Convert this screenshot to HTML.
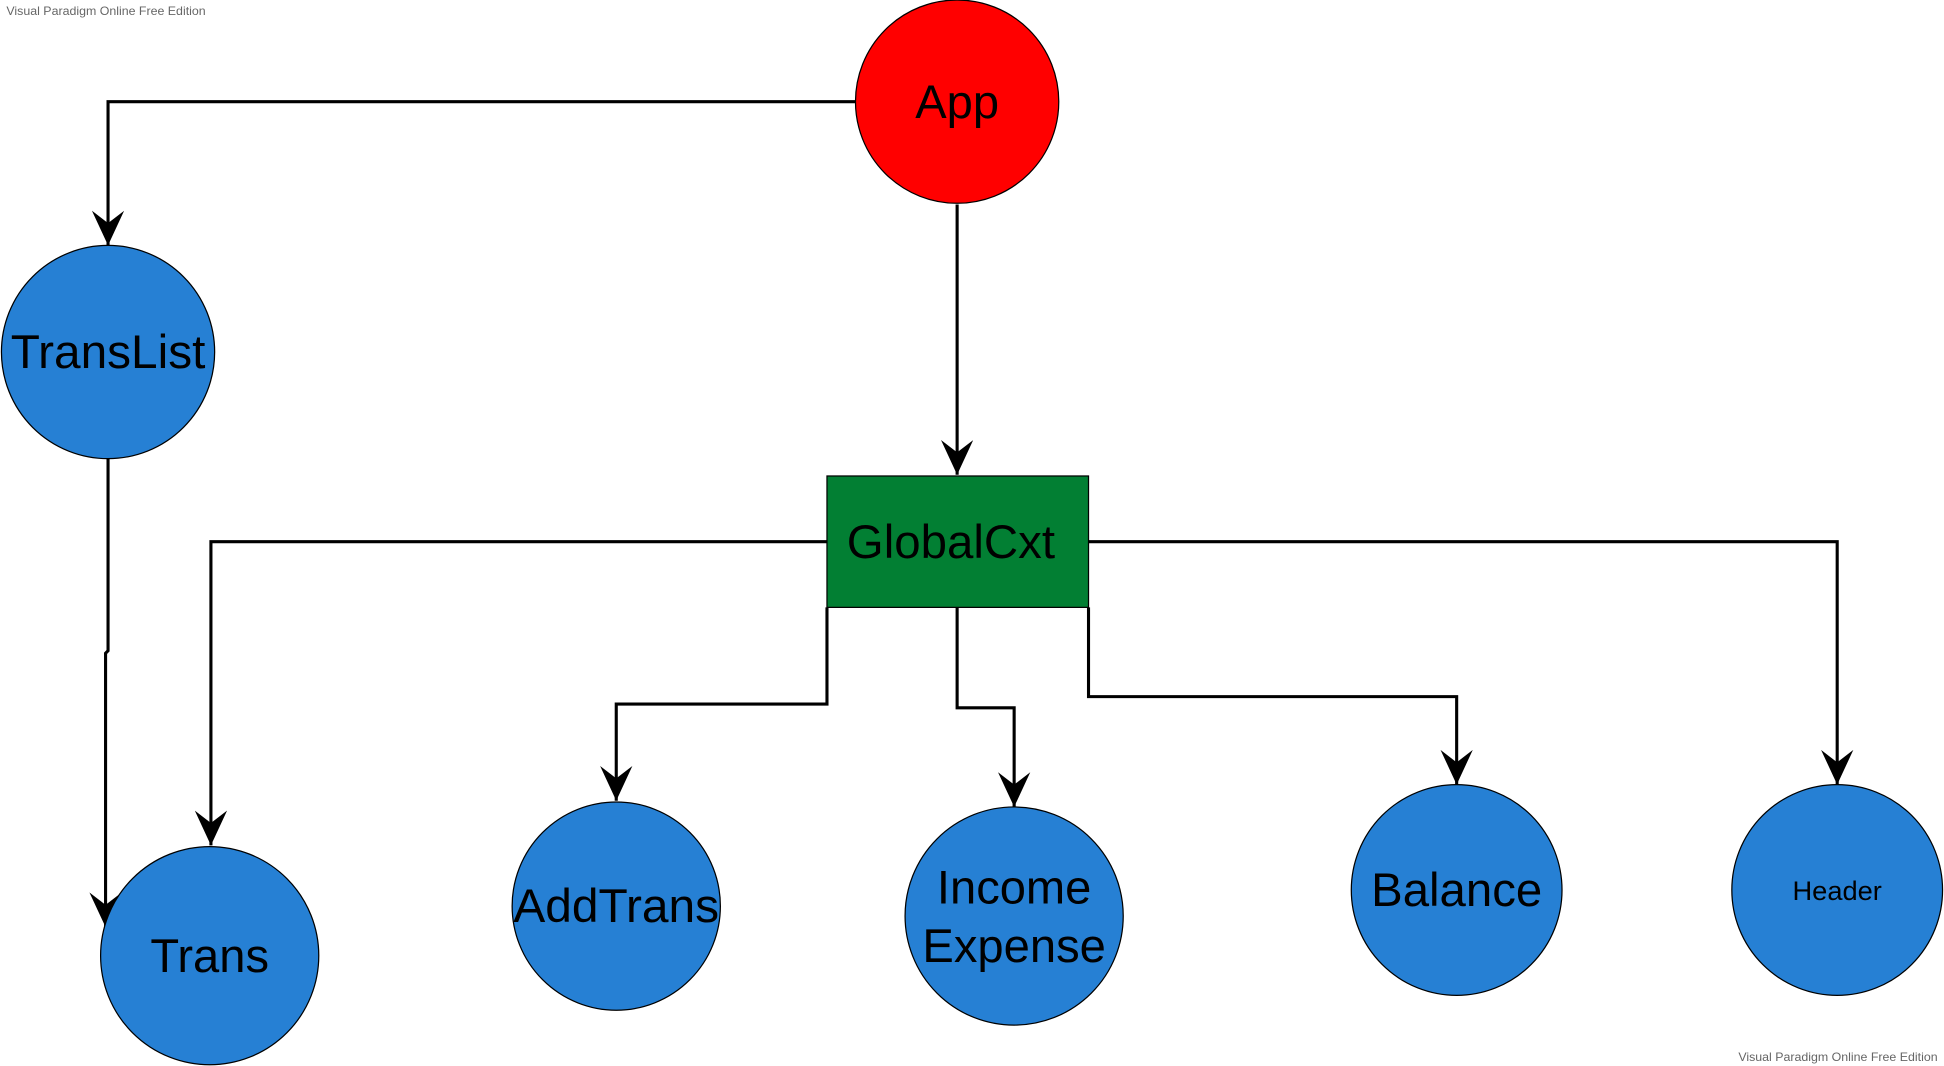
<!DOCTYPE html>
<html><head><meta charset="utf-8"><style>
html,body{margin:0;padding:0;background:#fff;width:1944px;height:1066px;overflow:hidden}
svg{display:block}
text{font-family:"Liberation Sans",Arial,sans-serif}
</style></head><body>
<svg width="1944" height="1066" viewBox="0 0 1568 860" xmlns="http://www.w3.org/2000/svg">
<defs>
<marker id="a" viewBox="0 0 30 26" refX="28" refY="13" markerWidth="30" markerHeight="26" markerUnits="userSpaceOnUse" orient="auto">
<path d="M28 13 L0 0 L10 13 L0 26 Z" fill="#000"/>
</marker>
</defs>
<text x="5" y="12" font-size="10" fill="#666">Visual Paradigm Online Free Edition</text>
<text x="1563" y="856" font-size="10" fill="#666" text-anchor="end">Visual Paradigm Online Free Edition</text>
<g fill="none" stroke="#000" stroke-width="2.5" marker-end="url(#a)">
<polyline points="690,82 87,82 87,198"/>
<polyline points="772,165 772,383"/>
<polyline points="87,370 87,525 85,527 85,748"/>
<polyline points="667,437 170,437 170,682"/>
<polyline points="667,490 667,568 497,568 497,646"/>
<polyline points="772,490 772,571 818,571 818,651"/>
<polyline points="878,490 878,562 1175,562 1175,633"/>
<polyline points="878,437 1482,437 1482,633"/>
</g>
<g stroke="#000" stroke-width="1">
<circle cx="772" cy="82" r="82" fill="#ff0000"/>
<circle cx="87" cy="284" r="86" fill="#2680d4"/>
<rect x="667" y="384" width="211" height="106" fill="#027f33"/>
<circle cx="169" cy="771" r="88" fill="#2680d4"/>
<circle cx="497" cy="731" r="84" fill="#2680d4"/>
<circle cx="818" cy="739" r="88" fill="#2680d4"/>
<circle cx="1175" cy="718" r="85" fill="#2680d4"/>
<circle cx="1482" cy="718" r="85" fill="#2680d4"/>
</g>
<g font-size="38" text-anchor="middle" fill="#000">
<text x="772" y="95">App</text>
<text x="87" y="297" textLength="157" lengthAdjust="spacingAndGlyphs">TransList</text>
<text x="767" y="450" textLength="168" lengthAdjust="spacingAndGlyphs">GlobalCxt</text>
<text x="169" y="784">Trans</text>
<text x="497" y="744" textLength="166" lengthAdjust="spacingAndGlyphs">AddTrans</text>
<text x="818" y="729">Income</text>
<text x="818" y="776" textLength="148" lengthAdjust="spacingAndGlyphs">Expense</text>
<text x="1175" y="731" textLength="138" lengthAdjust="spacingAndGlyphs">Balance</text>
<text x="1482" y="726" font-size="22">Header</text>
</g>
</svg>
</body></html>
